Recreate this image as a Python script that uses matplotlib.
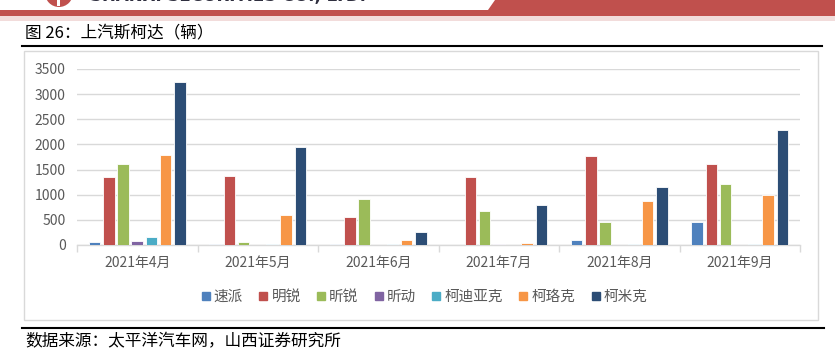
import matplotlib
matplotlib.use("Agg")
import matplotlib.pyplot as plt
import matplotlib.patches as mpatches
import numpy as np

plt.rcParams["font.family"] = ["Noto Sans CJK SC", "DejaVu Sans"]

months = ["2021年4月", "2021年5月", "2021年6月", "2021年7月", "2021年8月", "2021年9月"]
models = ["速派", "明锐", "昕锐", "昕动", "柯迪亚克", "柯珞克", "柯米克"]
supai    = [50, 10, 10, 0, 100, 460]
mingrui  = [1345, 1365, 565, 1345, 1770, 1605]
xinrui   = [1605, 50, 915, 675, 455, 1220]
xindong  = [80, 0, 0, 15, 0, 0]
kodiaq   = [160, 20, 20, 0, 15, 15]
karoq    = [1790, 600, 100, 45, 880, 1000]
kamiq    = [3250, 1945, 265, 800, 1150, 2285]
series = [supai, mingrui, xinrui, xindong, kodiaq, karoq, kamiq]
colors = ["#4F81BD", "#C0504D", "#9BBB59", "#8064A2", "#4BACC6", "#F79646", "#2C4D75"]

W, H = 835, 356
fig = plt.figure(figsize=(W / 100, H / 100), dpi=100, facecolor="white")

def fx(px): return px / W
def fy(py): return 1 - py / H

# ── header decoration ────────────────────────────────────────────────────────
fig.add_artist(mpatches.Rectangle((0, fy(16)), 1, 6 / H, transform=fig.transFigure,
                                  color="#C0504D", lw=0))
fig.add_artist(mpatches.Rectangle((0, fy(21)), 1, 5 / H, transform=fig.transFigure,
                                  color="#F2DCDB", lw=0))
fig.add_artist(mpatches.Polygon([(fx(488), fy(10)), (fx(495), fy(0)), (1, fy(0)), (1, fy(10))],
                                closed=True, transform=fig.transFigure, color="#C0504D", lw=0))
fig.add_artist(mpatches.Ellipse((fx(59), fy(-7)), 28 / W, 28 / H, transform=fig.transFigure,
                                color="#C0504D", lw=0))
fig.add_artist(mpatches.Rectangle((fx(57), fy(6)), 3 / W, 8 / H, transform=fig.transFigure,
                                  color="white", lw=0))
fig.text(fx(90), fy(5), "SHANXI SECURITIES CO., LTD.", fontsize=12, fontweight="bold",
         color="#2F2F3F", ha="left", va="bottom", family="DejaVu Sans")

fig.text(fx(25), fy(33), "图 26：上汽斯柯达（辆）", fontsize=12, color="black", ha="left", va="center")
fig.add_artist(plt.Line2D([fx(22), fx(822)], [fy(46), fy(46)], transform=fig.transFigure,
                          color="black", lw=1.5))
fig.add_artist(mpatches.Rectangle((fx(24), fy(320)), (818 - 24) / W, (320 - 51) / H,
                                  transform=fig.transFigure, fill=False, ec="#D9D9D9", lw=1))
fig.add_artist(plt.Line2D([fx(22), fx(824)], [fy(327.5), fy(327.5)], transform=fig.transFigure,
                          color="black", lw=1.5))
fig.text(fx(25), fy(342), "数据来源：太平洋汽车网，山西证券研究所", fontsize=12, color="black",
         ha="left", va="center")

# ── bar chart ────────────────────────────────────────────────────────────────
ax = fig.add_axes([fx(77), fy(245), (800 - 77) / W, (245 - 69) / H])
x = np.arange(len(months))
pitch = 0.118
bw = 0.096
for i, (name, vals, c) in enumerate(zip(models, series, colors)):
    ax.bar(x + (i - 3) * pitch, vals, bw, color=c, edgecolor="white", linewidth=0.6,
           label=name, zorder=3)

ax.set_xlim(-0.5, len(months) - 0.5)
ax.set_ylim(0, 3500)
ax.set_yticks(np.arange(0, 3501, 500))
ax.yaxis.grid(True, color="#D9D9D9", linewidth=1, zorder=0)
ax.tick_params(axis="y", length=0, labelsize=10, labelcolor="#595959", pad=8)
ax.set_xticks(np.arange(-0.5, len(months), 1))
ax.set_xticklabels([])
ax.set_xticks(x, minor=True)
ax.set_xticklabels(months, minor=True)
ax.tick_params(axis="x", which="major", length=5, color="#D9D9D9", width=1)
ax.tick_params(axis="x", which="minor", length=0, labelsize=10, labelcolor="#595959", pad=8)
for s in ["top", "right", "left"]:
    ax.spines[s].set_visible(False)
ax.spines["bottom"].set_color("#D9D9D9")
ax.spines["bottom"].set_linewidth(1)

handles = [plt.Line2D([], [], marker="s", linestyle="", color=c, markersize=6) for c in colors]
leg = fig.legend(handles, models, loc="center", bbox_to_anchor=(fx(423), fy(297)), ncol=7,
                 frameon=False, fontsize=10.5, handletextpad=0.05, columnspacing=0.9,
                 handlelength=1.0)
for t in leg.get_texts():
    t.set_color("#595959")

fig.savefig("out.png", dpi=100, facecolor="white")
